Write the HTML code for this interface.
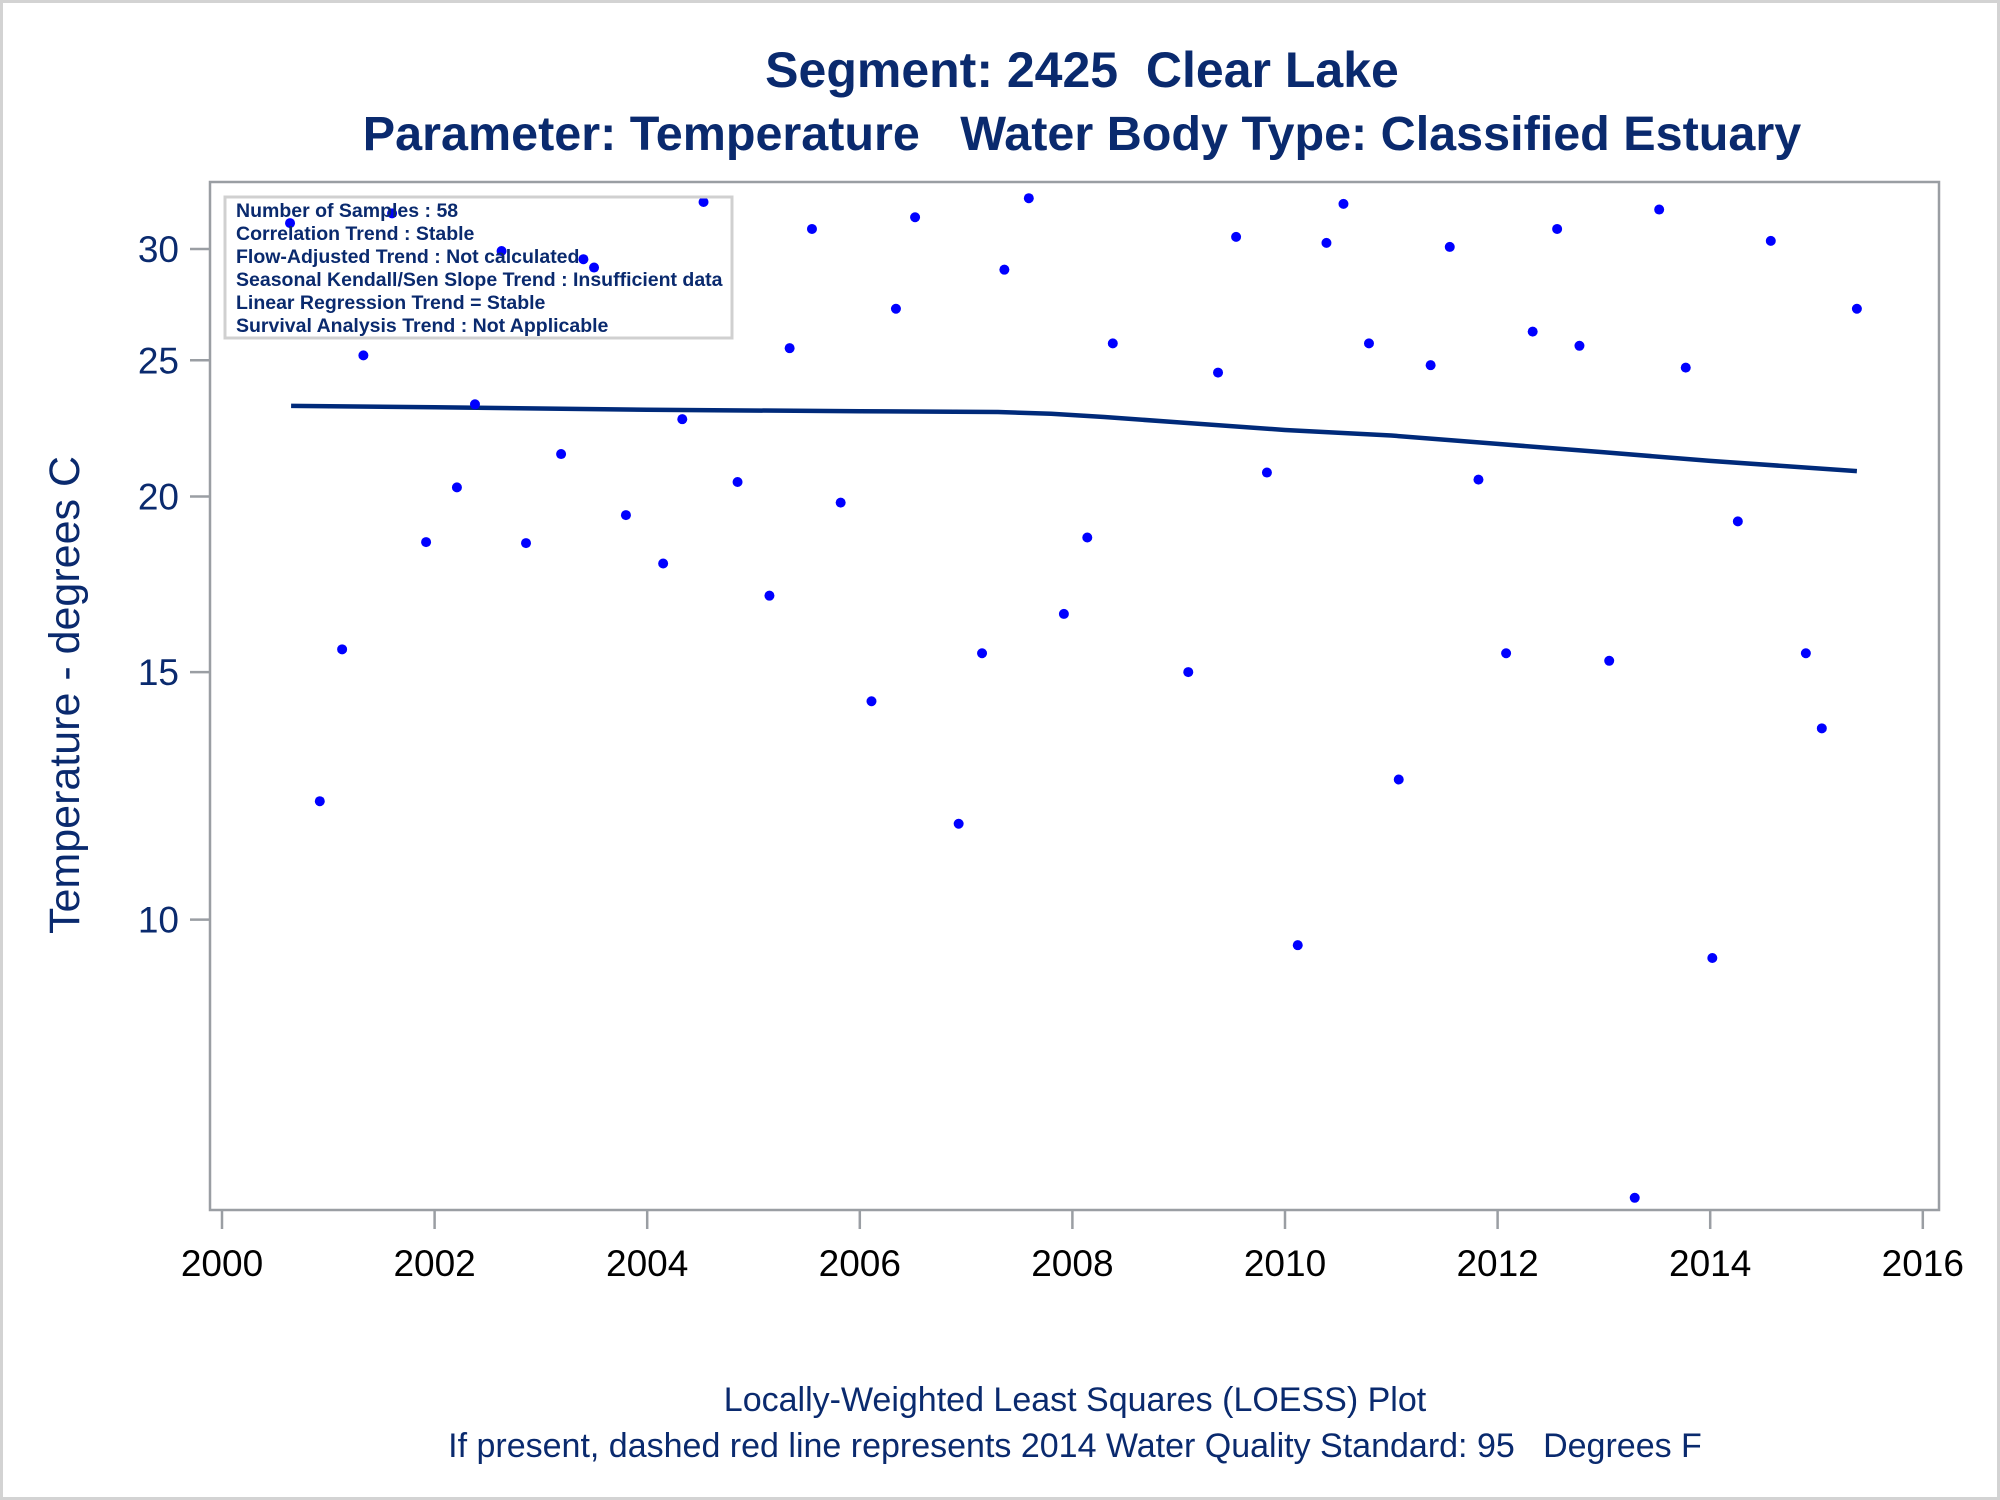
<!DOCTYPE html>
<html><head><meta charset="utf-8"><style>
html,body{margin:0;padding:0;background:#fff;}
svg{display:block;font-family:"Liberation Sans",Arial,sans-serif;}
</style></head><body>
<svg id="chart" width="2000" height="1500" viewBox="0 0 2000 1500" xmlns="http://www.w3.org/2000/svg">
<rect x="1.5" y="1.5" width="1997" height="1497" fill="#fff" stroke="#d3d3d3" stroke-width="3"/>
<text x="1082" y="87" text-anchor="middle" font-size="50" font-weight="bold" fill="#0a2a6e" xml:space="preserve">Segment: 2425  Clear Lake</text>
<text x="1082" y="150" text-anchor="middle" font-size="48.5" font-weight="bold" fill="#0a2a6e" xml:space="preserve">Parameter: Temperature   Water Body Type: Classified Estuary</text>
<rect x="210" y="182" width="1729" height="1028" fill="none" stroke="#9a9ea3" stroke-width="2.5"/>
<g id="yaxis"></g>
<g id="xaxis"></g>
<text transform="translate(79,695) rotate(-90)" text-anchor="middle" font-size="43" fill="#0a2a6e">Temperature - degrees C</text>
<g id="marks"></g>
<g>
<rect x="225" y="197" width="507" height="141" fill="none" stroke="#d0d0d0" stroke-width="3"/>
<g font-size="19.5" font-weight="bold" fill="#0a2a6e" transform="translate(236,0)">
<text x="0" y="217">Number of Samples : 58</text>
<text x="0" y="240">Correlation Trend : Stable</text>
<text x="0" y="263">Flow-Adjusted Trend : Not calculated</text>
<text x="0" y="286">Seasonal Kendall/Sen Slope Trend : Insufficient data</text>
<text x="0" y="309">Linear Regression Trend = Stable</text>
<text x="0" y="332">Survival Analysis Trend : Not Applicable</text>
</g></g>
<text x="1075" y="1411" text-anchor="middle" font-size="34" fill="#0a2a6e">Locally-Weighted Least Squares (LOESS) Plot</text>
<text x="1075" y="1457" text-anchor="middle" font-size="34" fill="#0a2a6e" xml:space="preserve">If present, dashed red line represents 2014 Water Quality Standard: 95   Degrees F</text>
</svg>
<script>
const years=[2000.64,2000.92,2001.13,2001.33,2001.60,2001.92,2002.21,2002.38,2002.63,2002.86,2003.19,2003.40,2003.50,2003.80,2004.15,2004.33,2004.53,2004.85,2005.15,2005.34,2005.55,2005.82,2006.11,2006.34,2006.52,2006.93,2007.15,2007.36,2007.59,2007.92,2008.14,2008.38,2009.09,2009.37,2009.54,2009.83,2010.12,2010.39,2010.55,2010.79,2011.07,2011.37,2011.55,2011.82,2012.08,2012.33,2012.56,2012.77,2013.05,2013.29,2013.52,2013.77,2014.02,2014.26,2014.57,2014.90,2015.05,2015.38];
const temps=[31.3,12.14,15.57,25.2,31.8,18.56,20.3,23.26,29.9,18.53,21.44,29.5,29.1,19.4,17.92,22.7,32.4,20.48,17.0,25.5,31.0,19.8,14.3,27.2,31.6,11.7,15.47,29.0,32.6,16.5,18.7,25.7,15.0,24.5,30.6,20.8,9.59,30.3,32.3,25.7,12.58,24.8,30.1,20.56,15.47,26.2,31.0,25.6,15.28,6.34,32.0,24.7,9.39,19.2,30.4,15.47,13.68,27.2];
const loessYears=[2000.65,2002,2004,2006,2007.3,2007.8,2008.3,2009,2010,2011,2012,2013,2014,2015.38];
const loessValues=[23.2,23.15,23.05,23.0,22.97,22.9,22.78,22.58,22.3,22.1,21.8,21.5,21.2,20.85];
const xTicks=[2000,2002,2004,2006,2008,2010,2012,2014,2016];
const yTicks=[10,15,20,25,30];
const NS="http://www.w3.org/2000/svg";
function xs(v){return 222+(v-2000)*106.3;}
function ys(v){return 919.6-1405.6*Math.log10(v/10);}
function mk(tag,attrs,parent){const e=document.createElementNS(NS,tag);for(const k in attrs)e.setAttribute(k,attrs[k]);parent.appendChild(e);return e;}
const ya=document.getElementById('yaxis'),xa=document.getElementById('xaxis'),mg=document.getElementById('marks');
yTicks.forEach(t=>{
  const l=mk('line',{x1:190,x2:209,y1:ys(t),y2:ys(t),stroke:'#9a9ea3','stroke-width':2.5},ya);
  
  
  const tx=mk('text',{x:179,y:ys(t)+13,'text-anchor':'end','font-size':37,fill:'#0a2a6e'},ya);
  tx.textContent=t;
  
  
});
xTicks.forEach(t=>{
  const l=mk('line',{x1:xs(t),x2:xs(t),y1:1210,y2:1229,stroke:'#9a9ea3','stroke-width':2.5},xa);
  
  
  const tx=mk('text',{x:xs(t),y:1276,'text-anchor':'middle','font-size':37,fill:'#000'},xa);
  tx.textContent=t;
  
  
});
const pts=loessYears.map((y,i)=>xs(y).toFixed(1)+','+ys(loessValues[i]).toFixed(1)).join(' ');
const pl=mk('polyline',{points:pts,fill:'none',stroke:'#002a7a','stroke-width':4.5,'stroke-linejoin':'round'},mg);


years.forEach((y,i)=>{
  const c=mk('circle',{cx:xs(y),cy:ys(temps[i]),r:5,fill:'#0000ff'},mg);
  
  
});
</script>
</body></html>
